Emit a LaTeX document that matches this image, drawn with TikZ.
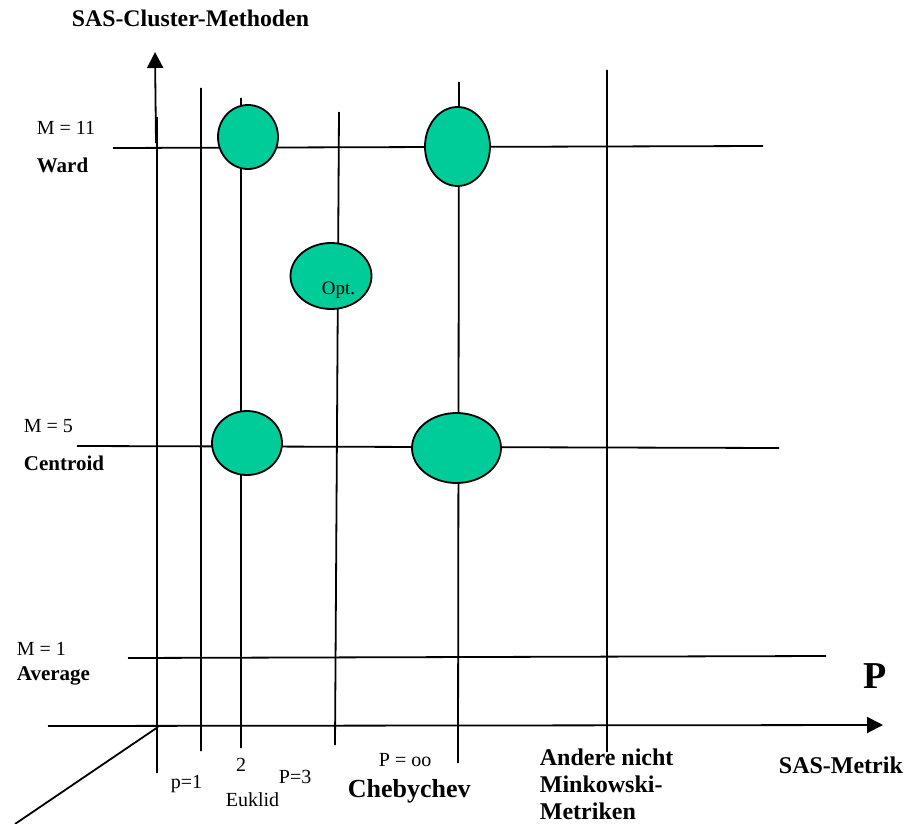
\documentclass[tikz,border=0pt]{standalone}
\usepackage{fontspec}
\setmainfont{Liberation Serif}
\usetikzlibrary{arrows.meta,shapes.geometric}
\definecolor{blobgreen}{RGB}{0,204,153}

\begin{document}
\begin{tikzpicture}[x=1pt,y=-1pt,line width=1.8pt,
    blob/.style={ellipse,draw,fill=blobgreen,inner sep=0pt},
    lbl/.style={anchor=base west,inner sep=0pt,font=\fontsize{20}{23}\selectfont},
    blbl/.style={lbl,font=\fontsize{21}{25}\selectfont\bfseries},
    axis/.style={-{Triangle[length=16pt,width=16pt]}}]

    \useasboundingbox (0,0) rectangle (911,824);

    % grid
    \draw (113,148) -- (763,146)
        (77,446) -- (779,448)
        (128,658) -- (826,656);
    \draw (201,88) -- (201,751)
        (241,98) -- (241,748)
        (339,112) -- (335,745)
        (459,82) -- (458,763)
        (607,70) -- (607,752);

    % axes
    \draw[axis] (48,726) -- (883,725);
    \draw[axis] (156,143) -- (155,52);
    \draw (157,117) -- (157,773)
        (158,727) -- (15,824);

    % blobs
    \node[blob,minimum width=60pt,minimum height=64pt] (ward2) at (248,137) {};
    \node[blob,minimum width=65pt,minimum height=79pt] (wardoo) at (457.5,146.5) {};
    \node[blob,minimum width=81pt,minimum height=66pt] (opt) at (331,276) {};
    \node[blob,minimum width=70pt,minimum height=64pt] (cent2) at (247,443) {};
    \node[blob,minimum width=89pt,minimum height=70pt] (centoo) at (456.5,448) {};
    \node[lbl,font=\fontsize{19}{22}\selectfont] (optlbl) at (321,294) {Opt.};

    % labels left
    \node[blbl,font=\fontsize{23.8}{28}\selectfont\bfseries] (title) at (71,27) {SAS-Cluster-Methoden};
    \node[lbl] (m11) at (36,135) {M = 11};
    \node[blbl] (ward) at (36,173) {Ward};
    \node[lbl] (m5) at (23,432) {M = 5};
    \node[blbl] (centroid) at (23,470) {Centroid};
    \node[lbl] (m1) at (16,655) {M = 1};
    \node[blbl] (average) at (16,680) {Average};

    % labels bottom
    \node[lbl] (p1) at (170,788) {p=1};
    \node[lbl,anchor=base] (p2) at (241,771) {2};
    \node[lbl] (euklid) at (225,806) {Euklid};
    \node[lbl] (p3) at (278,783) {P=3};
    \node[lbl] (poo) at (378,766) {P = oo};
    \node[blbl,font=\fontsize{26}{30}\selectfont\bfseries] (cheby) at (347,797) {Chebychev};
    \node[blbl,font=\fontsize{24}{27}\selectfont\bfseries,align=left,anchor=north west]
        (andere) at (539,748) {Andere nicht\\Minkowski-\\Metriken};
    \node[blbl,font=\fontsize{24}{28}\selectfont\bfseries] (metrik) at (778,773) {SAS-Metrik};
    \node[blbl,font=\fontsize{38}{44}\selectfont\bfseries] (pbig) at (863,688) {P};
\end{tikzpicture}
\end{document}
